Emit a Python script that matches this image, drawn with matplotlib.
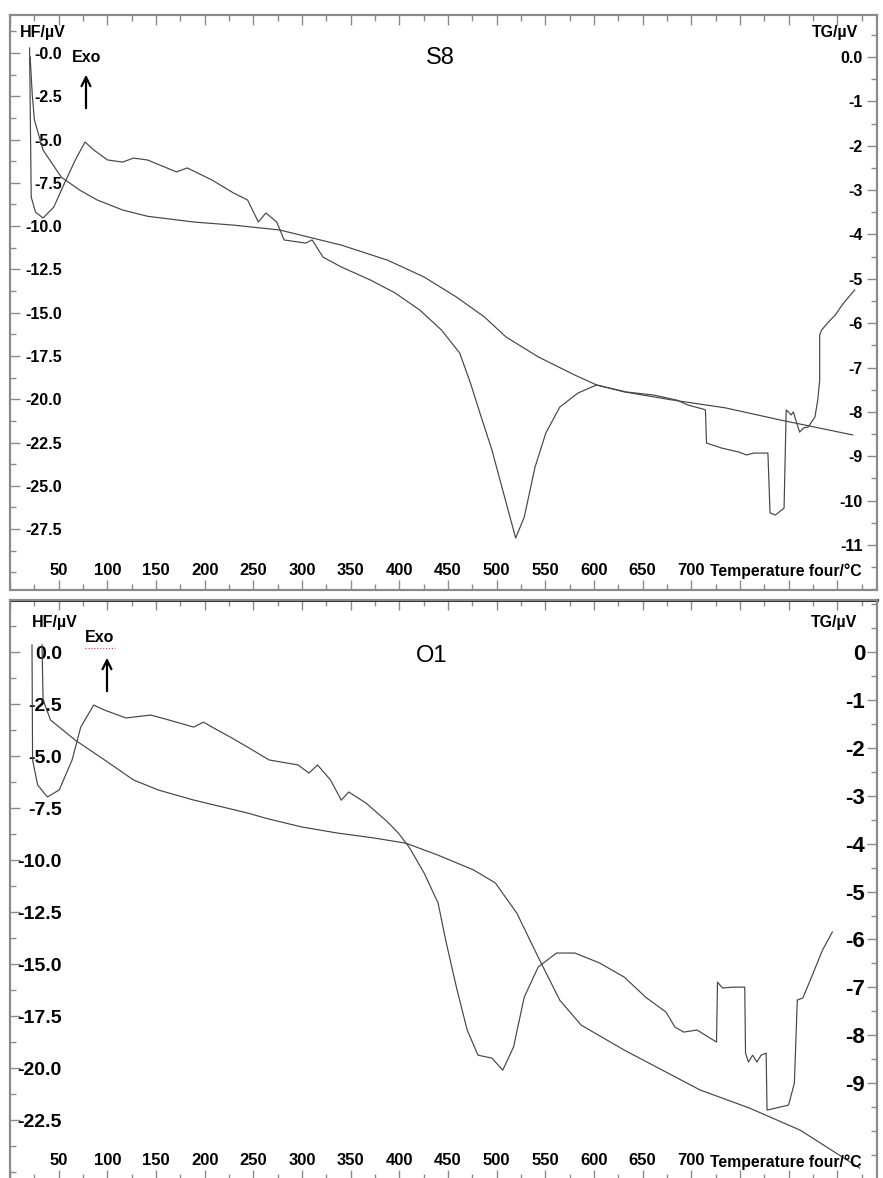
import matplotlib
matplotlib.use('Agg')
import matplotlib.pyplot as plt
from matplotlib.ticker import MultipleLocator
import numpy as np

plt.rcParams['font.family'] = ['Liberation Sans', 'DejaVu Sans']

# ---- S8 (top panel) ----
s8_hf_temp = [20.1, 20.7, 21.8, 26.2, 34.0, 45.0, 56.1, 67.1, 77.1, 86.0, 100.3, 115.8, 126.9, 141.3,
              171.1, 182.2, 207.6, 229.8, 244.1, 255.2, 263.0, 274.0, 281.7, 303.8, 310.5, 321.6,
              340.4, 370.2, 395.7, 421.1, 443.3, 462.1, 473.1, 484.2, 495.2, 506.3, 519.6, 528.4,
              539.5, 550.6, 565.0, 583.7, 602.6, 633.3, 661.5, 685.2, 696.9, 712.2, 714.6, 715.7,
              731.2, 748.9, 756.7, 764.4, 778.8, 781.0, 786.5, 795.4, 797.6, 800.0, 802.5, 805.0,
              807.4, 811.4, 815.3, 820.2, 823.6, 827.1, 830.0, 832.0, 832.0, 834.0, 841.0, 848.0,
              855.0, 861.0, 868.0]
s8_hf = [0.29, -2.72, -8.32, -9.19, -9.53, -8.90, -7.51, -6.18, -5.14, -5.60, -6.18, -6.30, -6.07, -6.18,
         -6.87, -6.64, -7.34, -8.09, -8.49, -9.76, -9.24, -9.76, -10.80, -10.98, -10.80, -11.79,
         -12.36, -13.11, -13.86, -14.85, -16.00, -17.33, -19.06, -21.03, -22.93, -25.25, -28.02, -26.81,
         -23.92, -21.95, -20.45, -19.64, -19.18, -19.58, -19.76, -20.05, -20.34, -20.57, -20.62, -22.53,
         -22.82, -23.05, -23.22, -23.11, -23.11, -26.57, -26.69, -26.29, -20.62, -20.74, -20.91, -20.74,
         -21.20, -21.90, -21.66, -21.60, -21.32, -21.03, -20.05, -18.89, -16.29, -16.00, -15.54, -15.14,
         -14.56, -14.15, -13.69]
s8_tg_temp = [20.7, 22.9, 25.1, 34.0, 52.8, 71.6, 89.3, 115.8, 141.3, 188.9, 229.8, 277.3, 340.4, 388.0,
              425.6, 458.7, 487.5, 509.6, 542.8, 580.4, 602.5, 631.3, 680.0, 735.3, 791.0, 866.0]
s8_tg = [0.0, -0.86, -1.42, -2.10, -2.71, -3.00, -3.22, -3.45, -3.59, -3.72, -3.79, -3.90, -4.24, -4.58,
         -4.96, -5.41, -5.86, -6.31, -6.76, -7.17, -7.39, -7.55, -7.73, -7.91, -8.18, -8.52]

# ---- O1 (bottom panel) ----
o1_hf_temp = [22.6, 23.2, 28.4, 38.4, 50.6, 63.8, 72.7, 86.0, 97.0, 119.1, 144.6, 163.4, 188.8, 198.8,
              207.6, 226.4, 244.1, 266.3, 296.1, 307.2, 316.0, 329.3, 340.4, 348.1, 365.8, 388.0,
              399.0, 410.1, 425.6, 439.9, 447.7, 458.7, 469.8, 480.9, 495.2, 506.3, 517.4, 528.4,
              542.8, 561.6, 580.4, 605.9, 631.3, 653.1, 674.1, 683.3, 692.3, 706.0, 726.0, 727.0,
              732.1, 742.5, 755.0, 755.8, 758.8, 763.1, 767.5, 771.8, 777.0, 777.9, 800.0, 806.0,
              809.0, 814.7, 823.6, 834.9, 845.0]
o1_hf = [0.34, -5.19, -6.39, -6.97, -6.63, -5.19, -3.61, -2.55, -2.79, -3.17, -3.03, -3.27, -3.61, -3.37,
         -3.61, -4.09, -4.57, -5.19, -5.43, -5.82, -5.43, -6.15, -7.12, -6.73, -7.26, -8.17,
         -8.70, -9.38, -10.63, -12.07, -13.85, -16.11, -18.17, -19.38, -19.52, -20.10, -18.99, -16.59,
         -15.14, -14.47, -14.47, -14.95, -15.63, -16.59, -17.31, -18.03, -18.27, -18.17, -18.75, -15.87,
         -16.15, -16.11, -16.11, -19.28, -19.71, -19.38, -19.71, -19.38, -19.28, -22.02, -21.78, -20.72,
         -16.73, -16.63, -15.63, -14.33, -13.46]
o1_tg_temp = [32.9, 34.0, 41.7, 67.1, 97.0, 126.9, 152.4, 188.8, 244.1, 263.0, 299.4, 337.0, 373.6, 406.8,
              439.9, 476.5, 498.7, 520.8, 542.8, 565.0, 587.1, 631.3, 709.0, 760.0, 812.0, 873.0]
o1_tg = [0.15, -1.00, -1.42, -1.84, -2.25, -2.67, -2.88, -3.09, -3.36, -3.47, -3.65, -3.78, -3.88, -3.99,
         -4.24, -4.55, -4.82, -5.45, -6.37, -7.27, -7.79, -8.31, -9.14, -9.52, -9.98, -10.77]

# axis labels
x_ticks = np.arange(0, 891, 50)
x_labels = [str(v) if 50 <= v <= 700 else '' for v in x_ticks]
s8_hf_ticks = np.arange(0, -28.0, -2.5)
s8_hf_labels = ['-0.0'] + ['%.1f' % v for v in s8_hf_ticks[1:]]
s8_tg_ticks = np.arange(0, -12, -1)
s8_tg_labels = ['0.0'] + [str(v) for v in s8_tg_ticks[1:]]
o1_hf_ticks = np.arange(0, -23.0, -2.5)
o1_hf_labels = ['0.0'] + ['%.1f' % v for v in o1_hf_ticks[1:]]
o1_tg_ticks = np.arange(0, -10, -1)
o1_tg_labels = [str(v) for v in o1_tg_ticks]

W, H = 883, 1178
LINE = '#454545'
FRAME = '#8a8a8a'
NARROW = ['Liberation Sans Narrow', 'Liberation Sans', 'DejaVu Sans']

fig = plt.figure(figsize=(W / 100, H / 100), dpi=100)


def fx(px):
    return px / W


def fy(py):
    return 1 - py / H


def panel(top, bottom, hf_t, hf, tg_t, tg, hf_lim, tg_lim, hf_ticks, hf_labels, tg_ticks, tg_labels,
          lsize, rsize, rpad):
    ax = fig.add_axes([fx(10), fy(bottom), fx(877) - fx(10), fy(top) - fy(bottom)])
    ax2 = ax.twinx()
    ax.plot(hf_t, hf, color=LINE, lw=0.85)
    ax2.plot(tg_t, tg, color=LINE, lw=0.85)
    ax.set_xlim(0.7, 890.9)
    ax.set_ylim(hf_lim)
    ax2.set_ylim(tg_lim)

    ax.tick_params(axis='x', which='both', direction='in', top=True, bottom=True, color=FRAME, pad=-13.7)
    ax.tick_params(axis='x', which='major', length=7, width=1)
    ax.tick_params(axis='x', which='minor', length=4, width=1)
    ax.tick_params(axis='y', which='both', direction='in', color=FRAME, pad=-37.4)
    ax.tick_params(axis='y', which='major', length=7, width=1)
    ax.tick_params(axis='y', which='minor', length=4, width=1)
    ax2.tick_params(axis='y', which='both', direction='in', color=FRAME, pad=rpad)
    ax2.tick_params(axis='y', which='major', length=7, width=1)
    ax2.tick_params(axis='y', which='minor', length=4, width=1)

    ax.set_xticks(x_ticks)
    ax.set_xticklabels(x_labels, va='center', fontsize=12, fontweight='bold', family=NARROW)
    ax.xaxis.set_minor_locator(MultipleLocator(25))
    ax.set_yticks(hf_ticks)
    ax.set_yticklabels(hf_labels, fontsize=lsize, fontweight='bold')
    ax.yaxis.set_minor_locator(MultipleLocator(1.25))
    ax2.set_yticks(tg_ticks)
    ax2.set_yticklabels(tg_labels, ha='right', fontsize=rsize, fontweight='bold')
    ax2.yaxis.set_minor_locator(MultipleLocator(0.5))

    for a in (ax, ax2):
        for s in a.spines.values():
            s.set_color(FRAME)
            s.set_linewidth(1.5)
    return ax, ax2


# top panel S8
panel(15, 590, s8_hf_temp, s8_hf, s8_tg_temp, s8_tg, (-31.02, 2.195), (-12.015, 0.947),
      s8_hf_ticks, s8_hf_labels, s8_tg_ticks, s8_tg_labels, 11.5, 11.5, -10)
# bottom panel O1
ax_b, ax_b2 = panel(600, 1180, o1_hf_temp, o1_hf, o1_tg_temp, o1_tg, (-25.38, 2.5), (-11.02, 1.086),
                    o1_hf_ticks, o1_hf_labels, o1_tg_ticks, o1_tg_labels, 14, 16, -8.6)
ax_b.spines['top'].set_color('#333333')
ax_b.spines['top'].set_linewidth(2.2)

# texts, top panel
fig.text(fx(20), fy(33), 'HF/µV', ha='left', va='center', fontsize=11.5, fontweight='bold')
fig.text(fx(858), fy(33), 'TG/µV', ha='right', va='center', fontsize=11.5, fontweight='bold')
fig.text(fx(440), fy(58), 'S8', ha='center', va='center', fontsize=17)
fig.text(fx(72), fy(58), 'Exo', ha='left', va='center', fontsize=11.5, fontweight='bold')
fig.text(fx(862), fy(571), 'Temperature four/°C', ha='right', va='center', fontsize=11.3,
         fontweight='bold', family=NARROW)
plt.annotate('', xy=(fx(86), fy(72)), xytext=(fx(86), fy(111)), xycoords='figure fraction',
             arrowprops=dict(arrowstyle='->', lw=1.6, color='black', mutation_scale=16))

# texts, bottom panel
fig.text(fx(32), fy(622), 'HF/µV', ha='left', va='center', fontsize=11.5, fontweight='bold')
fig.text(fx(857), fy(622), 'TG/µV', ha='right', va='center', fontsize=11.5, fontweight='bold')
fig.text(fx(432), fy(656), 'O1', ha='center', va='center', fontsize=17)
fig.text(fx(85), fy(637), 'Exo', ha='left', va='center', fontsize=11.5, fontweight='bold')
fig.add_artist(plt.Line2D([fx(85), fx(115)], [fy(648), fy(648)], color='#d04040', lw=0.8, ls=':'))
fig.text(fx(862), fy(1162), 'Temperature four/°C', ha='right', va='center', fontsize=11.3,
         fontweight='bold', family=NARROW)
plt.annotate('', xy=(fx(107), fy(655)), xytext=(fx(107), fy(694)), xycoords='figure fraction',
             arrowprops=dict(arrowstyle='->', lw=1.6, color='black', mutation_scale=16))

fig.savefig('out.png', dpi=100)
